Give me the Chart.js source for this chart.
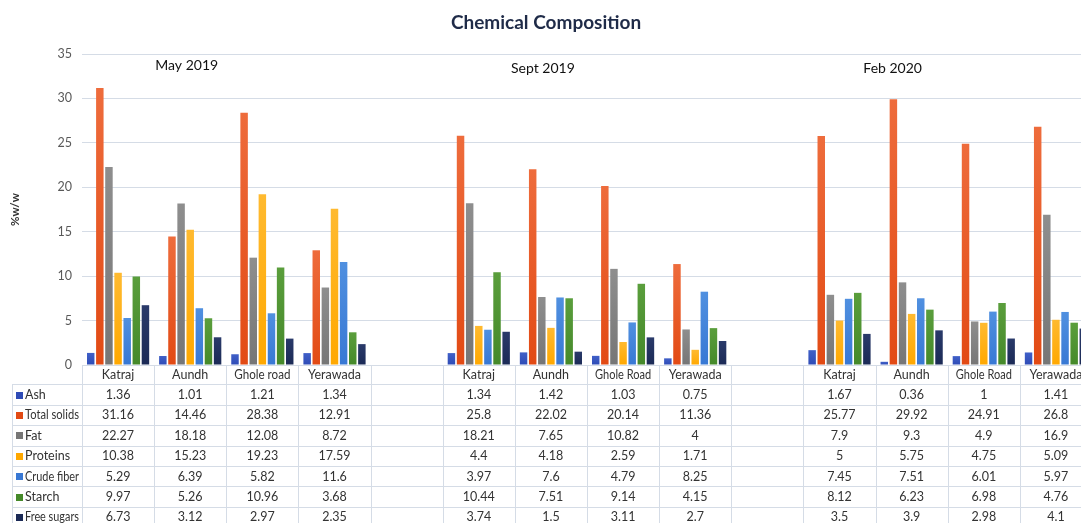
<!DOCTYPE html>
<html>
<head>
<meta charset="utf-8">
<script src="https://cdn.jsdelivr.net/npm/chart.js@4/dist/chart.umd.min.js"></script>
<style>
  html, body { margin: 0; padding: 0; background: #ffffff; overflow: hidden; }
  #wrap { width: 1081px; height: 523px; overflow: hidden; position: relative; }
  canvas { display: block; }
</style>
</head>
<body>
<div id="wrap"><canvas id="c" width="1092" height="523"></canvas></div>
<script>
// ---- Data ----
const categories = ["Katraj", "Aundh", "Ghole road", "Yerawada", "",
                    "Katraj", "Aundh", "Ghole Road", "Yerawada", "",
                    "Katraj", "Aundh", "Ghole Road", "Yerawada"];
const groupLabels = ["May 2019", "Sept 2019", "Feb 2020"];
const seriesNames = ["Ash", "Total solids", "Fat", "Proteins", "Crude fiber", "Starch", "Free sugars"];
const ash         = [1.36, 1.01, 1.21, 1.34, null, 1.34, 1.42, 1.03, 0.75, null, 1.67, 0.36, 1, 1.41];
const totalSolids = [31.16, 14.46, 28.38, 12.91, null, 25.8, 22.02, 20.14, 11.36, null, 25.77, 29.92, 24.91, 26.8];
const fat         = [22.27, 18.18, 12.08, 8.72, null, 18.21, 7.65, 10.82, 4, null, 7.9, 9.3, 4.9, 16.9];
const proteins    = [10.38, 15.23, 19.23, 17.59, null, 4.4, 4.18, 2.59, 1.71, null, 5, 5.75, 4.75, 5.09];
const crudeFiber  = [5.29, 6.39, 5.82, 11.6, null, 3.97, 7.6, 4.79, 8.25, null, 7.45, 7.51, 6.01, 5.97];
const starch      = [9.97, 5.26, 10.96, 3.68, null, 10.44, 7.51, 9.14, 4.15, null, 8.12, 6.23, 6.98, 4.76];
const freeSugars  = [6.73, 3.12, 2.97, 2.35, null, 3.74, 1.5, 3.11, 2.7, null, 3.5, 3.9, 2.98, 4.1];
const yTicks      = [0, 5, 10, 15, 20, 25, 30, 35];

const seriesValues = [ash, totalSolids, fat, proteins, crudeFiber, starch, freeSugars];
const seriesColors = ["#2E4BB6", "#E24A14", "#767676", "#FFA800", "#3878D4", "#45892A", "#1B2A56"];
const seriesLight  = ["#4060C8", "#EE6C3C", "#8E8E8E", "#FFBA30", "#5090E0", "#5A9E3C", "#2A3A6A"];

const FONT = "Lato, 'Liberation Sans', sans-serif";
const TEXT = "#333333";
const LINE = "#D5DCE6";

function barFill(k) {
  return (c) => {
    const chart = c.chart;
    const ys = chart.scales.y;
    if (!ys || c.raw === null || c.raw === undefined || c.type !== 'data') return seriesColors[k];
    const y0 = ys.getPixelForValue(0);
    const y1 = ys.getPixelForValue(c.raw);
    if (!isFinite(y0) || !isFinite(y1) || Math.abs(y0 - y1) < 1) return seriesColors[k];
    const g = chart.ctx.createLinearGradient(0, y1, 0, y0);
    g.addColorStop(0, seriesLight[k]);
    g.addColorStop(1, seriesColors[k]);
    return g;
  };
}

const tablePlugin = {
  id: 'dataTable',
  afterDraw(chart) {
    const ctx = chart.ctx;
    const xs = chart.scales.x;
    const area = chart.chartArea;
    const n = categories.length;
    const cw = (xs.right - xs.left) / n;
    const top = area.bottom;
    const headH = 19.3;
    const rowH = 20.4;
    const rows = seriesNames.length;
    const bottom = top + headH + rowH * rows;
    const leftCol = 12;
    ctx.save();
    ctx.strokeStyle = LINE;
    ctx.lineWidth = 1;
    ctx.beginPath();
    ctx.moveTo(xs.left, Math.round(top) + 0.5); ctx.lineTo(xs.right, Math.round(top) + 0.5);
    for (let r = 0; r <= rows; r++) {
      const y = Math.round(top + headH + r * rowH) + 0.5;
      ctx.moveTo(leftCol, y); ctx.lineTo(xs.right, y);
    }
    ctx.moveTo(leftCol + 0.5, top + headH); ctx.lineTo(leftCol + 0.5, bottom);
    for (let i = 0; i <= n; i++) {
      const x = Math.round(xs.left + i * cw) + 0.5;
      ctx.moveTo(x, top); ctx.lineTo(x, bottom);
    }
    ctx.stroke();

    ctx.textBaseline = 'middle';
    ctx.font = "12.5px " + FONT;
    ctx.fillStyle = TEXT;
    ctx.textAlign = 'center';
    // header (category labels)
    for (let i = 0; i < n; i++) {
      if (!categories[i]) continue;
      ctx.fillText(categories[i], xs.getPixelForValue(i), top + headH / 2 + 0.5, cw - 16);
    }
    // legend keys and values
    for (let r = 0; r < rows; r++) {
      const yc = top + headH + r * rowH + rowH / 2 + 0.5;
      ctx.fillStyle = seriesColors[r];
      ctx.fillRect(16, Math.round(yc - 3.5), 7, 7);
      ctx.fillStyle = TEXT;
      ctx.textAlign = 'left';
      ctx.fillText(seriesNames[r], 25, yc, 54);
      ctx.textAlign = 'center';
      const vals = seriesValues[r];
      for (let i = 0; i < n; i++) {
        if (vals[i] === null || vals[i] === undefined) continue;
        ctx.fillText(String(vals[i]), xs.getPixelForValue(i), yc);
      }
    }

    // group labels
    ctx.fillStyle = "#111111";
    ctx.font = "14px " + FONT;
    ctx.textAlign = 'center';
    const anchors = [[1, -3.5, 65], [6, -8, 68], [11, -19, 68]];
    groupLabels.forEach((t, k) => {
      const a = anchors[k];
      ctx.fillText(t, xs.getPixelForValue(a[0]) + a[1], a[2]);
    });
    ctx.restore();
  }
};

new Chart(document.getElementById('c'), {
  type: 'bar',
  data: {
    labels: categories,
    datasets: seriesNames.map((name, k) => ({
      label: name,
      data: seriesValues[k],
      backgroundColor: barFill(k),
      borderWidth: 0,
      categoryPercentage: 0.885,
      barPercentage: 0.82
    }))
  },
  options: {
    responsive: false,
    animation: false,
    layout: { padding: { top: 0, left: 0, right: 0, bottom: 138.7 } },
    plugins: {
      legend: { display: false },
      tooltip: { enabled: false },
      title: {
        display: true,
        text: 'Chemical Composition',
        color: '#1F2B48',
        font: { family: FONT, size: 19, weight: 'bold' },
        padding: { top: 11, bottom: 20.2 }
      }
    },
    scales: {
      x: {
        offset: true,
        grid: { display: false, drawTicks: false },
        border: { display: false },
        ticks: { display: false },
        afterFit(scale) { scale.height = 19.3; }
      },
      y: {
        min: 0,
        max: 35,
        afterBuildTicks(scale) { scale.ticks = yTicks.map(v => ({ value: v })); },
        grid: { color: LINE, drawTicks: false, lineWidth: 1 },
        border: { display: false },
        ticks: {
          color: '#595959',
          font: { family: FONT, size: 12.5 },
          padding: 10
        },
        title: {
          display: true,
          text: '%w/w',
          color: '#333333',
          font: { family: FONT, size: 11.5, weight: 'bold' },
          padding: { top: 8, bottom: 0 }
        },
        afterFit(scale) { scale.width = 82; }
      }
    }
  },
  plugins: [tablePlugin]
});
</script>
</body>
</html>
